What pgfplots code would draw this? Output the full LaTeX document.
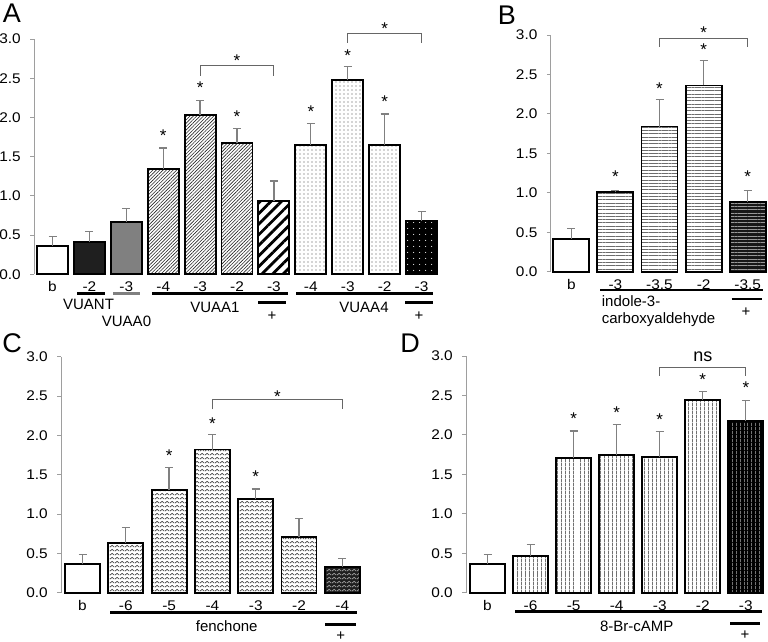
\documentclass[border=0pt]{standalone}
\usepackage{fontspec}
\setmainfont{Liberation Sans}
\newfontfamily\tickfont[FakeStretch=1.1]{Liberation Sans}
\usepackage{pgfplots}
\pgfplotsset{compat=1.18}
\usetikzlibrary{patterns,patterns.meta}
\definecolor{axgray}{gray}{0.62}
\definecolor{errgray}{gray}{0.5}
\tikzdeclarepattern{
  name=zigzag,
  type=uncolored,
  bounding box={(0bp,0bp) and (4.6bp,4.2bp)},
  tile size={(4.6bp,4.2bp)},
  code={
    \draw[line width=0.8bp] (0bp,1.1bp) -- (2.3bp,3.1bp) -- (4.6bp,1.1bp);
  }
}
\newcommand{\fs}{\fontsize{15bp}{17bp}\selectfont}
\newcommand{\tfs}{\tickfont\fontsize{14bp}{16bp}\selectfont}
\pgfplotsset{
  panel/.style={
    anchor=south west,
    axis y line*=left,
    axis x line*=bottom,
    x axis line style={draw=none},
    y axis line style={draw=axgray, line width=0.9bp},
    ymin=0, ymax=3,
    ytick={0,0.5,1,1.5,2,2.5,3},
    yticklabel={\pgfmathprintnumber[fixed,fixed zerofill,precision=1,assume math mode=true]{\tick}},
    xtick style={draw=none},
    ytick style={draw=axgray, line width=0.9bp},
    tick align=outside,
    major tick length=3.8bp,
    clip=false,
    tick label style={font=\tfs},
    xticklabel style={anchor=base, yshift=-13.8bp},
    yticklabel style={anchor=east, xshift=-6bp},
    enlargelimits=false,
  },
  bar/.style={ybar, bar shift=0pt, draw=black, line width=1.9bp,
    error bars/y dir=plus, error bars/y explicit,
    error bars/error bar style={draw=errgray, line width=1.3bp},
    error bars/error mark options={draw=errgray, line width=1.3bp, mark size=4bp, rotate=90}},
}
\tikzset{star/.style={font=\fontsize{17bp}{19bp}\selectfont, inner sep=0pt, yshift=-3.6bp},
  brk/.style={draw=gray!80!black, line width=1.1bp},
  uline/.style={line width=2.6bp}}
\begin{document}
\begin{tikzpicture}
\useasboundingbox (0,0) rectangle (768bp,-642bp);
% ---------------- A
\begin{axis}[panel, at={(34bp,-274.3bp)}, x=36.9bp, y=78.43bp, xmin=-0.502, xmax=10.5,
  xtick={0,...,10}, xticklabels={b,-2,-3,-4,-3,-2,-3,-4,-3,-2,-3},
  every axis plot/.append style={bar width=31bp}]
\addplot[bar, fill=white] coordinates {(0,0.365) +- (0,0.12)};
\addplot[bar, fill=black!88] coordinates {(1,0.41) +- (0,0.14)};
\addplot[bar, fill=gray!100] coordinates {(2,0.667) +- (0,0.173)};
\addplot[bar, preaction={fill=white}, pattern={Lines[angle=45,distance=2.4bp,line width=0.6bp]}, pattern color=black!85]
  coordinates {(3,1.347) +- (0,0.263) (4,2.03) +- (0,0.19) (5,1.67) +- (0,0.19)};
\addplot[bar, preaction={fill=white}, pattern={Lines[angle=45,distance=7.5bp,line width=2.8bp]}]
  coordinates {(6,0.935) +- (0,0.255)};
\addplot[bar, preaction={fill=white}, pattern={Dots[distance=4bp,radius=0.55bp]}, pattern color=black!70]
  coordinates {(7,1.645) +- (0,0.275) (8,2.48) +- (0,0.17) (9,1.65) +- (0,0.395)};
\addplot[bar, preaction={fill=black}, pattern={Dots[distance=6bp,radius=0.6bp]}, pattern color=white]
  coordinates {(10,0.68) +- (0,0.12)};
\node[star] at (axis cs:3,1.82) {*};
\node[star] at (axis cs:4,2.43) {*};
\node[star] at (axis cs:5,2.06) {*};
\node[star] at (axis cs:7,2.12) {*};
\node[star] at (axis cs:8,2.84) {*};
\node[star] at (axis cs:9,2.245) {*};
\draw[brk] (axis cs:4,2.53) |- (axis cs:6,2.66) -- (axis cs:6,2.53);
\node[star] at (axis cs:5,2.77) {*};
\draw[brk] (axis cs:8,2.95) |- (axis cs:10,3.07) -- (axis cs:10,2.95);
\node[star] at (axis cs:9,3.18) {*};
\end{axis}
% ---------------- B
\begin{axis}[panel, at={(550.7bp,-271.7bp)}, x=44.1bp, y=78.9bp, xmin=-0.467, xmax=4.5,
  xtick={0,...,4}, xticklabels={b,-3,-3.5,-2,-3.5},
  every axis plot/.append style={bar width=36bp}]
\addplot[bar, fill=white] coordinates {(0,0.418) +- (0,0.132)};
\addplot[bar, preaction={fill=white}, pattern={Lines[angle=0,distance=3.3bp,line width=0.9bp]}, pattern color=gray!85!black]
  coordinates {(1,1.006) +- (0,0.02) (2,1.84) +- (0,0.34) (3,2.36) +- (0,0.32)};
\addplot[bar, preaction={fill=black!90}, pattern={Lines[angle=0,distance=3.3bp,line width=0.9bp]}, pattern color=gray!80]
  coordinates {(4,0.887) +- (0,0.14)};
\node[star] at (axis cs:1,1.25) {*};
\node[star] at (axis cs:2,2.37) {*};
\node[star] at (axis cs:3,2.86) {*};
\node[star] at (axis cs:4,1.25) {*};
\draw[brk] (axis cs:2,2.85) |- (axis cs:4,2.96) -- (axis cs:4,2.85);
\node[star] at (axis cs:3,3.07) {*};
\end{axis}
% ---------------- C
\begin{axis}[panel, at={(61bp,-592.7bp)}, x=43.3bp, y=78.67bp, xmin=-0.497, xmax=6.5,
  xtick={0,...,6}, xticklabels={b,-6,-5,-4,-3,-2,-4},
  every axis plot/.append style={bar width=35bp}]
\addplot[bar, fill=white] coordinates {(0,0.364) +- (0,0.123)};
\addplot[bar, preaction={fill=white}, pattern=zigzag, pattern color=black!70]
  coordinates {(1,0.636) +- (0,0.194) (2,1.305) +- (0,0.285) (3,1.82) +- (0,0.19) (4,1.186) +- (0,0.134) (5,0.71) +- (0,0.235)};
\addplot[bar, preaction={fill=black!88}, pattern=zigzag, pattern color=gray!75]
  coordinates {(6,0.33) +- (0,0.106)};
\node[star] at (axis cs:2,1.79) {*};
\node[star] at (axis cs:3,2.20) {*};
\node[star] at (axis cs:4,1.525) {*};
\draw[brk] (axis cs:3,2.33) |- (axis cs:6,2.46) -- (axis cs:6,2.33);
\node[star] at (axis cs:4.5,2.54) {*};
\end{axis}
% ---------------- D
\begin{axis}[panel, at={(466bp,-592.7bp)}, x=43.05bp, y=78.9bp, xmin=-0.5, xmax=6.5,
  xtick={0,...,6}, xticklabels={b,-6,-5,-4,-3,-2,-3},
  every axis plot/.append style={bar width=35bp}]
\addplot[bar, fill=white] coordinates {(0,0.363) +- (0,0.123)};
\addplot[bar, preaction={fill=white}, pattern={Lines[angle=90,distance=3.6bp,line width=0.75bp]}, pattern color=black!85]
  coordinates {(1,0.465) +- (0,0.145) (2,1.71) +- (0,0.34) (3,1.75) +- (0,0.38) (4,1.72) +- (0,0.32) (5,2.44) +- (0,0.11)};
\addplot[bar, preaction={fill=black}, pattern={Lines[angle=90,distance=3.6bp,line width=0.75bp]}, pattern color=gray!60]
  coordinates {(6,2.18) +- (0,0.26)};
\node[star] at (axis cs:2,2.25) {*};
\node[star] at (axis cs:3,2.33) {*};
\node[star] at (axis cs:4,2.24) {*};
\node[star] at (axis cs:5,2.75) {*};
\node[star] at (axis cs:6,2.64) {*};
\draw[brk] (axis cs:4,2.75) |- (axis cs:6,2.86) -- (axis cs:6,2.75);
\node[font=\fontsize{18bp}{20bp}\selectfont, inner sep=0pt] at (axis cs:5,2.99) {ns};
\end{axis}
% ---------------- annotations (picture coordinates, 1bp per pixel)
\begin{scope}[x=1bp, y=-1bp]
\node[font=\fontsize{27bp}{30bp}\selectfont, inner sep=0pt] at (12,13) {A};
\node[font=\fontsize{27bp}{30bp}\selectfont, inner sep=0pt] at (507,15) {B};
\node[font=\fontsize{27bp}{30bp}\selectfont, inner sep=0pt] at (12,343) {C};
\node[font=\fontsize{27bp}{30bp}\selectfont, inner sep=0pt] at (410,343) {D};
% A
\draw[uline] (77,293.3) -- (105,293.3);
\draw[uline, draw=gray] (113,293.3) -- (140,293.3);
\draw[uline] (152,293.3) -- (288,293.3);
\draw[uline] (296,293.3) -- (433,293.3);
\draw[uline] (258,302.3) -- (286,302.3);
\draw[uline] (405,302.3) -- (433,302.3);
\node[font=\fs, inner sep=0pt] at (88.5,304) {VUANT};
\node[font=\fs, inner sep=0pt] at (126.5,321) {VUAA0};
\node[font=\fs, inner sep=0pt] at (215,307) {VUAA1};
\node[font=\fs, inner sep=0pt] at (364,307) {VUAA4};
\node[font=\fs, inner sep=0pt] at (272,316) {+};
\node[font=\fs, inner sep=0pt] at (419,316) {+};
% B
\draw[uline] (600,290) -- (762.7,290);
\draw[uline] (731.7,299) -- (761.7,299);
\node[font=\fs, inner sep=0pt, anchor=base west] at (601.7,306) {indole-3-};
\node[font=\fs, inner sep=0pt, anchor=base west] at (601.7,323) {carboxyaldehyde};
\node[font=\fs, inner sep=0pt] at (746,311.7) {+};
% C
\draw[uline] (110,612.7) -- (357,612.7);
\draw[uline] (325,624.3) -- (356,624.3);
\node[font=\fs, inner sep=0pt] at (226.7,626) {fenchone};
\node[font=\fs, inner sep=0pt] at (340.7,636) {+};
% D
\draw[uline] (515,611.7) -- (761.7,611.7);
\draw[uline] (730,623.3) -- (760,623.3);
\node[font=\fs, inner sep=0pt] at (636.7,626) {8-Br-cAMP};
\node[font=\fs, inner sep=0pt] at (745,635) {+};
\end{scope}
\end{tikzpicture}
\end{document}
